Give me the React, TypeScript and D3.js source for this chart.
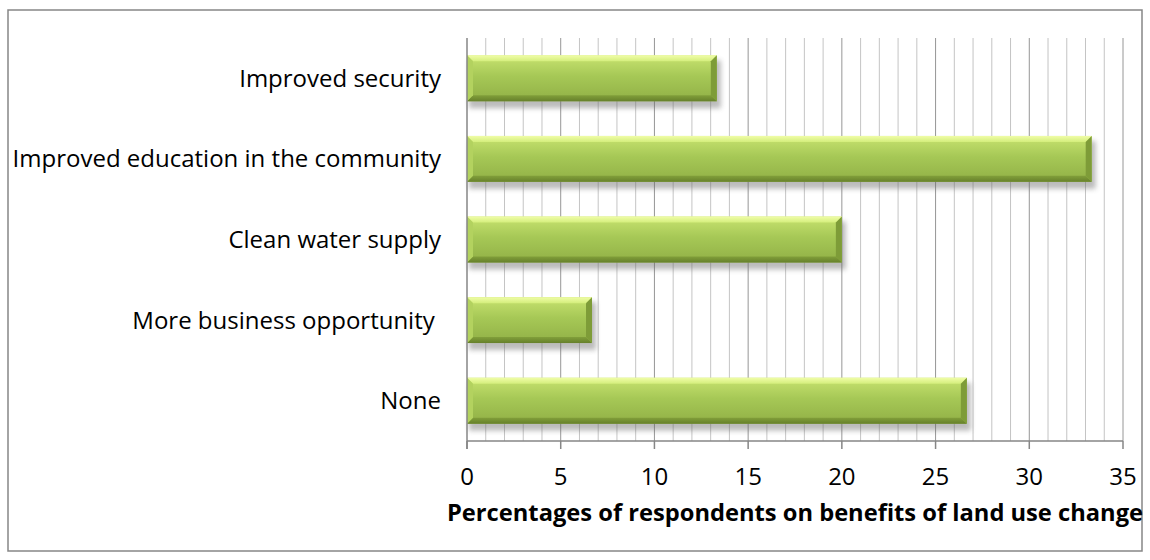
import React from "react";
import * as d3 from "d3";

// Benefits of land use change, share of respondents (%)
const categories = [
  "Improved security",
  "Improved education in the community",
  "Clean water supply",
  "More business opportunity ",
  "None",
];
const percentages = [13.33, 33.33, 20, 6.67, 26.67];
const xTicks = [0, 5, 10, 15, 20, 25, 30, 35];
const axisTitle = "Percentages of respondents on benefits of land use change";

const W = 1150;
const H = 560;
const plot = { left: 467, right: 1123, top: 38, bottom: 441 };
const FONT = "'Open Sans', Lato, sans-serif";
const FS = 24;

export default function App() {
  const x = d3.scaleLinear().domain([0, 35]).range([plot.left, plot.right]);
  const y = d3
    .scaleBand<string>()
    .domain(categories)
    .range([plot.top, plot.bottom])
    .paddingInner(0.43)
    .paddingOuter(0.215);

  const minor = d3.range(0, 36, 1).filter((v) => v % 5 !== 0);
  const bh = y.bandwidth();
  const bv = 6; // bevel width

  return (
    <svg
      width={W}
      height={H}
      style={{ position: "absolute", left: 0, top: 0, display: "block", background: "#fff" }}
    >
      <defs>
        <linearGradient id="face" x1="0" y1="0" x2="0" y2="1">
          <stop offset="0" stopColor="#c8e370" />
          <stop offset="0.45" stopColor="#a6c856" />
          <stop offset="1" stopColor="#91b046" />
        </linearGradient>
        <linearGradient id="topBevel" x1="0" y1="0" x2="0" y2="1">
          <stop offset="0" stopColor="#f0fda8" />
          <stop offset="1" stopColor="#d4ee7c" />
        </linearGradient>
        <linearGradient id="botBevel" x1="0" y1="0" x2="0" y2="1">
          <stop offset="0" stopColor="#819f3a" />
          <stop offset="1" stopColor="#66802b" />
        </linearGradient>
        <filter id="shadow" x="-5%" y="-30%" width="110%" height="170%">
          <feGaussianBlur stdDeviation="2.5" />
        </filter>
      </defs>

      {/* chart frame */}
      <rect x={8} y={10} width={1134} height={541} fill="#fff" stroke="#868686" strokeWidth={1.5} />

      {/* minor vertical gridlines */}
      {minor.map((v) => (
        <line
          key={"m" + v}
          x1={x(v)}
          x2={x(v)}
          y1={plot.top}
          y2={plot.bottom}
          stroke="#c4c4c4"
          strokeWidth={1}
        />
      ))}
      {/* major vertical gridlines */}
      {xTicks.slice(1).map((v) => (
        <line
          key={"g" + v}
          x1={x(v)}
          x2={x(v)}
          y1={plot.top}
          y2={plot.bottom}
          stroke="#969696"
          strokeWidth={1}
        />
      ))}

      {/* bar shadows */}
      {categories.map((c, i) => (
        <rect
          key={"s" + c}
          x={x(0) + 2}
          y={(y(c) as number) + 5}
          width={x(percentages[i]) - x(0) + 2}
          height={bh + 2}
          fill="#6b6b6b"
          opacity={0.45}
          filter="url(#shadow)"
        />
      ))}

      {/* bars with bevelled edges */}
      {categories.map((c, i) => {
        const x0 = x(0);
        const x1 = x(percentages[i]);
        const y0 = y(c) as number;
        const y1 = y0 + bh;
        return (
          <g key={"b" + c}>
            <rect x={x0} y={y0} width={x1 - x0} height={bh} fill="url(#face)" />
            <polygon
              points={`${x0},${y0} ${x1},${y0} ${x1 - bv},${y0 + bv} ${x0 + bv},${y0 + bv}`}
              fill="url(#topBevel)"
            />
            <polygon
              points={`${x0},${y1} ${x1},${y1} ${x1 - bv},${y1 - bv} ${x0 + bv},${y1 - bv}`}
              fill="url(#botBevel)"
            />
            <polygon
              points={`${x0},${y0} ${x0 + bv},${y0 + bv} ${x0 + bv},${y1 - bv} ${x0},${y1}`}
              fill="#b3d25f"
            />
            <polygon
              points={`${x1},${y0} ${x1 - bv},${y0 + bv} ${x1 - bv},${y1 - bv} ${x1},${y1}`}
              fill="#7e9c38"
            />
          </g>
        );
      })}

      {/* axes */}
      <line x1={plot.left} x2={plot.left} y1={plot.top} y2={plot.bottom + 8} stroke="#868686" strokeWidth={1.5} />
      <line x1={plot.left} x2={plot.right} y1={plot.bottom} y2={plot.bottom} stroke="#868686" strokeWidth={1.5} />
      {xTicks.map((v) => (
        <line
          key={"t" + v}
          x1={x(v)}
          x2={x(v)}
          y1={plot.bottom}
          y2={plot.bottom + 8}
          stroke="#868686"
          strokeWidth={1.5}
        />
      ))}
      {xTicks.map((v) => (
        <text
          key={"l" + v}
          x={x(v)}
          y={477}
          dy="0.35em"
          textAnchor="middle"
          fontFamily={FONT}
          fontSize={FS}
          fill="#000"
        >
          {v}
        </text>
      ))}

      {/* category labels */}
      {categories.map((c) => (
        <text
          key={"c" + c}
          x={441}
          y={(y(c) as number) + bh / 2}
          dy="0.35em"
          textAnchor="end"
          fontFamily={FONT}
          fontSize={FS}
          fill="#000"
          style={{ whiteSpace: "pre" }}
        >
          {c}
        </text>
      ))}

      {/* axis title */}
      <text
        x={(plot.left + plot.right) / 2}
        y={513}
        dy="0.35em"
        textAnchor="middle"
        fontFamily={FONT}
        fontSize={23.7}
        fontWeight="bold"
        fill="#000"
      >
        {axisTitle}
      </text>
    </svg>
  );
}
